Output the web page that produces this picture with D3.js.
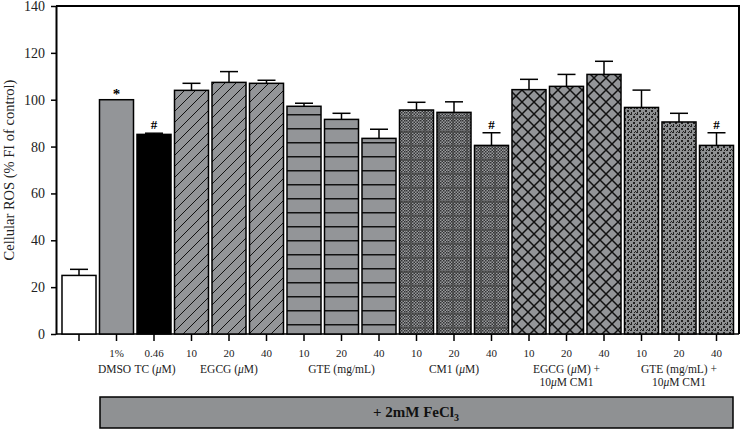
<!DOCTYPE html>
<html>
<head>
<meta charset="utf-8">
<script src="https://cdn.jsdelivr.net/npm/d3@7"></script>
<style>
  body { margin: 0; background: #fff; }
  svg { display: block; font-family: "Liberation Serif", "DejaVu Serif", serif; }
</style>
</head>
<body>
<svg></svg>
<script>
const width = 740;
const height = 429;

// data
const tickLabels = ["", "1%", "0.46", "10", "20", "40", "10", "20", "40", "10", "20", "40", "10", "20", "40", "10", "20", "40"];
const values = [25, 100, 85.2, 104, 107.4, 107, 97.2, 91.6, 83.5, 95.6, 94.6, 80.5, 104.3, 105.7, 110.8, 96.7, 90.5, 80.5];
const errors = [2.6, 0, 0.5, 3.0, 4.6, 1.3, 1.3, 2.6, 3.9, 3.3, 4.5, 5.4, 4.4, 5.1, 5.6, 7.4, 3.7, 5.4];
const marks = ["", "*", "#", "", "", "", "", "", "", "", "", "#", "", "", "", "", "", "#"];
const fills = ["white", "gray", "black", "diag", "diag", "diag", "horiz", "horiz", "horiz",
               "stipple", "stipple", "stipple", "cross", "cross", "cross", "dots", "dots", "dots"];
const groupLabels = [
  { at: 1, lines: ["DMSO"] },
  { at: 2, lines: ["TC (μM)"] },
  { at: 4, lines: ["EGCG (μM)"] },
  { at: 7, lines: ["GTE (mg/mL)"] },
  { at: 10, lines: ["CM1 (μM)"] },
  { at: 13, lines: ["EGCG (μM) +", "10μM CM1"] },
  { at: 16, lines: ["GTE (mg/mL) +", "10μM CM1"] }
];
const yTicks = [0, 20, 40, 60, 80, 100, 120, 140];

const barGray = "#939598";

const svg = d3.select("svg").attr("width", width).attr("height", height);

const y = d3.scaleLinear().domain([0, 140]).range([334, 6]);
const x = d3.scaleBand().domain(d3.range(values.length))
  .range([60.25, 735.25]).paddingInner(0.093).paddingOuter(0.0465);

// patterns
const defs = svg.append("defs");

let p = defs.append("pattern").attr("id", "diag").attr("patternUnits", "userSpaceOnUse")
  .attr("width", 11).attr("height", 11);
p.append("rect").attr("width", 11).attr("height", 11).attr("fill", barGray);
p.append("path").attr("d", "M-1,12 L12,-1 M-3,3 L3,-3 M8,14 L14,8").attr("stroke", "#111").attr("stroke-width", 1);

p = defs.append("pattern").attr("id", "horiz").attr("patternUnits", "userSpaceOnUse")
  .attr("width", 20).attr("height", 14).attr("y", 2);
p.append("rect").attr("width", 20).attr("height", 14).attr("fill", barGray);
p.append("line").attr("x1", 0).attr("x2", 20).attr("y1", 0.75).attr("y2", 0.75)
  .attr("stroke", "#111").attr("stroke-width", 1.5);

p = defs.append("pattern").attr("id", "checker").attr("patternUnits", "userSpaceOnUse")
  .attr("width", 3).attr("height", 3);
p.append("rect").attr("width", 3).attr("height", 3).attr("fill", "#9a9c9e");
p.append("rect").attr("width", 1.5).attr("height", 1.5).attr("fill", "#333335");
p.append("rect").attr("x", 1.5).attr("y", 1.5).attr("width", 1.5).attr("height", 1.5).attr("fill", "#333335");

p = defs.append("pattern").attr("id", "stipple").attr("patternUnits", "userSpaceOnUse")
  .attr("width", 14).attr("height", 14).attr("y", 5);
p.append("rect").attr("width", 14).attr("height", 14).attr("fill", "url(#checker)");
p.append("path").attr("d", "M0,1 H14 M5,0 V14").attr("stroke", "#444").attr("stroke-width", 2).attr("opacity", 0.7);

p = defs.append("pattern").attr("id", "cross").attr("patternUnits", "userSpaceOnUse")
  .attr("width", 12).attr("height", 12);
p.append("rect").attr("width", 12).attr("height", 12).attr("fill", barGray);
p.append("path").attr("d", "M0,0 L12,12 M12,0 L0,12").attr("stroke", "#111").attr("stroke-width", 1.5);

p = defs.append("pattern").attr("id", "dots").attr("patternUnits", "userSpaceOnUse")
  .attr("width", 6).attr("height", 6);
p.append("rect").attr("width", 6).attr("height", 6).attr("fill", "#8e9092");
p.append("path").attr("d", "M0,0h2v1h-2z M3,2h2v2h-2z M1,4h1v2h-1z M5,5h1v1h-1z M4,0h1v1h-1z")
  .attr("fill", "#222");

function fillOf(f) {
  if (f === "white") return "#fff";
  if (f === "gray") return barGray;
  if (f === "black") return "#000";
  return `url(#${f})`;
}

// frame
svg.append("path")
  .attr("d", `M56,6 H739 V334`)
  .attr("fill", "none").attr("stroke", "#000").attr("stroke-width", 2);
svg.append("line").attr("x1", 56).attr("x2", 739).attr("y1", 334).attr("y2", 334)
  .attr("stroke", "#000").attr("stroke-width", 1.5);

// bars
svg.append("g").selectAll("rect").data(values).join("rect")
  .attr("x", (d, i) => x(i))
  .attr("y", d => y(d))
  .attr("width", x.bandwidth())
  .attr("height", d => y(0) - y(d))
  .attr("fill", (d, i) => fillOf(fills[i]))
  .attr("stroke", "#000").attr("stroke-width", 1.5);

// error bars
const eb = svg.append("g").attr("stroke", "#000").attr("stroke-width", 1.5);
values.forEach((v, i) => {
  if (!errors[i]) return;
  const cx = x(i) + x.bandwidth() / 2;
  eb.append("line").attr("x1", cx).attr("x2", cx).attr("y1", y(v)).attr("y2", y(v + errors[i]));
  eb.append("line").attr("x1", cx - 9).attr("x2", cx + 9).attr("y1", y(v + errors[i])).attr("y2", y(v + errors[i]));
});

// significance marks
svg.append("g").selectAll("text").data(marks).join("text")
  .attr("x", (d, i) => x(i) + x.bandwidth() / 2)
  .attr("y", (d, i) => y(values[i] + errors[i]) - (d === "*" ? 1 : 4))
  .attr("text-anchor", "middle")
  .attr("font-size", d => d === "*" ? 15 : 13)
  .attr("font-weight", "bold")
  .text(d => d);

// y axis
const yAxis = svg.append("g").attr("transform", "translate(56,0)")
  .call(d3.axisLeft(y).tickValues(yTicks).tickSize(5).tickSizeOuter(0).tickPadding(6));
yAxis.select(".domain").attr("stroke-width", 2);
yAxis.selectAll(".tick line").attr("stroke-width", 1.5);
yAxis.selectAll("text").attr("font-family", "Liberation Serif").attr("font-size", 14).attr("fill", "#222");

svg.append("text")
  .attr("transform", "translate(14,170) rotate(-90)")
  .attr("text-anchor", "middle")
  .attr("font-size", 14.5)
  .attr("fill", "#222")
  .text("Cellular ROS (% FI of control)");

// x axis
const xAxis = svg.append("g").attr("transform", "translate(0,334)")
  .call(d3.axisBottom(x).tickSize(7).tickSizeOuter(0).tickPadding(8).tickFormat(i => tickLabels[i]));
xAxis.select(".domain").remove();
xAxis.selectAll(".tick line").attr("stroke-width", 1.5);
xAxis.selectAll("text").attr("font-family", "Liberation Serif").attr("font-size", 11).attr("fill", "#222");

// group labels
const gl = svg.append("g").attr("font-size", 11.5).attr("fill", "#222").attr("text-anchor", "middle");
groupLabels.forEach(g => {
  g.lines.forEach((ln, k) => {
    const t = gl.append("text")
      .attr("x", x(g.at) + x.bandwidth() / 2 + (g.at === 1 ? -2 : g.at === 2 ? 1 : 0))
      .attr("y", 373 + k * 13);
    const parts = ln.split("μ");
    t.append("tspan").text(parts[0]);
    if (parts.length > 1) {
      t.append("tspan").attr("font-style", "italic").text("μ");
      t.append("tspan").text(parts[1]);
    }
  });
});

// FeCl3 box
svg.append("rect").attr("x", 100).attr("y", 397).attr("width", 633).attr("height", 31)
  .attr("fill", "#8f9193").attr("stroke", "#000").attr("stroke-width", 1.5);
const fe = svg.append("text").attr("x", 416).attr("y", 417)
  .attr("text-anchor", "middle").attr("font-size", 15).attr("font-weight", "bold").attr("fill", "#111");
fe.append("tspan").text("+ 2mM FeCl");
fe.append("tspan").attr("font-size", 10).attr("dy", 4).text("3");
</script>
</body>
</html>
